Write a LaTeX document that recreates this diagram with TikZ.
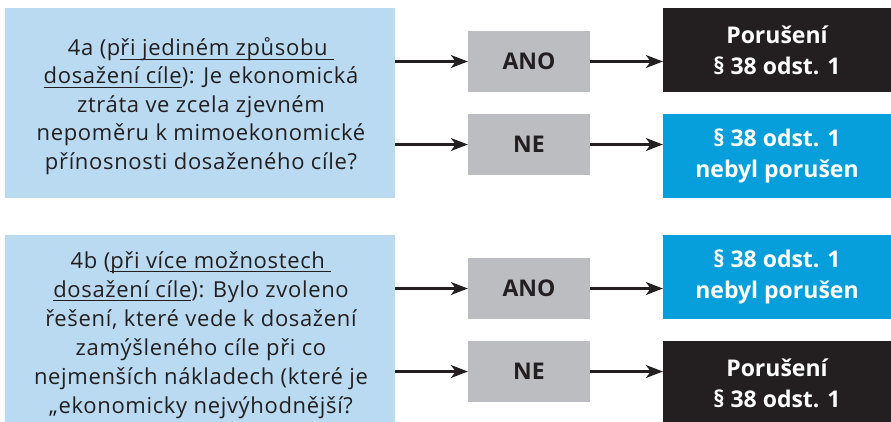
\documentclass[tikz,border=0pt]{standalone}
\usepackage{fontspec}
\setmainfont{Open Sans}
\newfontfamily\qfont[LetterSpace=3]{Open Sans}
\newcommand\myul[1]{\setbox0\hbox{#1}\rlap{\rule[-4pt]{\wd0}{0.8pt}}\box0}
\usetikzlibrary{arrows.meta}
\definecolor{qblue}{HTML}{B9DAF1}
\definecolor{ggrey}{HTML}{BCBDC0}
\definecolor{dark}{HTML}{231F20}
\definecolor{cyanb}{HTML}{069FDB}
\tikzset{
  qbox/.style={fill=qblue, minimum width=390pt, inner sep=0pt},
  qtext/.style={inner sep=0pt, align=center, text=dark,
    font=\qfont\fontsize{22}{28.5}\selectfont},
  gbox/.style={fill=ggrey, minimum width=122pt, minimum height=61pt, inner sep=0pt,
    text=dark, font=\fontsize{23}{30}\selectfont\bfseries},
  rbox/.style={minimum width=228pt, minimum height=84pt, inner sep=0pt, align=center,
    text=white, font=\fontsize{23}{31}\selectfont\bfseries},
  arr/.style={draw=dark, line width=2.2pt, -{Stealth[length=17pt,width=13pt,inset=5pt]}}
}
\begin{document}
\begin{tikzpicture}[x=1pt,y=-1pt]
\useasboundingbox (0,0) rectangle (891,421);
\node[qbox, minimum height=190pt] (q1) at (200,103) {};
\node[qtext] (q1t) at (201,106) {4a (p\myul{ři jediném způsobu\ }\\\myul{dosažení cíle}): Je ekonomická\\ztráta ve zcela zjevném\\nepoměru k mimoekonomické\\přínosnosti dosaženého cíle?};
\node[qbox, minimum height=190pt] (q2) at (200,330) {};
\node[qtext, font=\qfont\fontsize{22}{29}\selectfont] (q2t) at (201,335) {4b (\myul{při více možnostech\ }\\\myul{dosažení cíle}): Bylo zvoleno\\řešení, které vede k dosažení\\zamýšleného cíle při co\\nejmenších nákladech (které je\\„ekonomicky nejvýhodnější?};
\node[gbox] (g1) at (529,61.5) {ANO};
\node[gbox] (g2) at (529,144.5) {NE};
\node[gbox] (g3) at (529,288.5) {ANO};
\node[gbox] (g4) at (529,371.5) {NE};
\node[rbox, fill=dark] (r1) at (777,50) {Porušení\\§ 38 odst. 1};
\node[rbox, fill=cyanb] (r2) at (777,156) {§ 38 odst. 1\\nebyl porušen};
\node[rbox, fill=cyanb] (r3) at (777,277) {§ 38 odst. 1\\nebyl porušen};
\node[rbox, fill=dark] (r4) at (777,383) {Porušení\\§ 38 odst. 1};
\draw[arr] (q1.east |- g1) -- (g1);
\draw[arr] (q1.east |- g2) -- (g2);
\draw[arr] (q2.east |- g3) -- (g3);
\draw[arr] (q2.east |- g4) -- (g4);
\draw[arr] (g1) -- (g1 -| r1.west);
\draw[arr] (g2) -- (g2 -| r2.west);
\draw[arr] (g3) -- (g3 -| r3.west);
\draw[arr] (g4) -- (g4 -| r4.west);
\end{tikzpicture}
\end{document}
